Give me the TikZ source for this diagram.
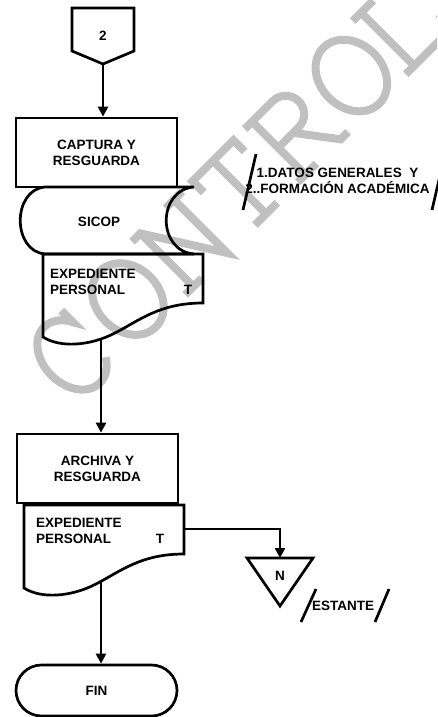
\documentclass[tikz,border=0pt]{standalone}
\usepackage{fontspec}
\setmainfont{Liberation Sans}
\usepackage{tikz}
\usetikzlibrary{arrows.meta}
\usetikzlibrary{positioning}
\usetikzlibrary{shapes.misc}
\definecolor{marcagris}{RGB}{192,192,192}
\newcommand{\hojadoc}[2]{\draw[linea, shift={(#1,#2)}] (0,0) -- (160,0) -- (160,49) .. controls (117,49) and (97,66) .. (72,79) .. controls (47,92) and (17,94) .. (0,83) -- cycle;}

\begin{document}
\begin{tikzpicture}[line cap=butt, line join=miter, x=1pt, y=-1pt,
	texto/.style={font=\bfseries\fontsize{13.5}{16}\selectfont, inner sep=0pt},
	caja/.style={draw, line width=2.7pt, minimum width=161pt, minimum height=69pt, align=center, texto},
	linea/.style={line width=2.7pt},
	flecha/.style={line width=2.7pt, -{Triangle[length=10pt, width=10pt]}}]
						\useasboundingbox (0,0) rectangle (437,717);
						\begin{scope}
						\clip (0,0) rectangle (437,717);
						\begin{scope}[shift={(70.6,409.4)}, rotate=45, x=131.7pt, y=131.7pt, draw=marcagris, line width=8pt]
						\draw (0.48,0.58) -- (0.48,0.457) arc[start angle=35, end angle=320, x radius=0.22, y radius=0.3];
						\draw (0.9,0.285) ellipse[x radius=0.24, y radius=0.3];
						\draw (1.23,0.57) -- (1.32,0.57) -- (1.68,0) -- (1.68,0.57);
						\draw (1.59,0.57) -- (1.77,0.57);
						\draw (1.32,0.57) -- (1.32,0);
						\draw (1.23,0) -- (1.41,0);
						\draw (1.88,0.45) -- (1.88,0.57) -- (2.32,0.57) -- (2.32,0.45);
						\draw (2.1,0.57) -- (2.1,0);
						\draw (1.98,0) -- (2.22,0);
						\draw (2.44,0.57) -- (2.74,0.57) arc[start angle=90, end angle=-90, radius=0.14] -- (2.52,0.29);
						\draw (2.52,0.57) -- (2.52,0);
						\draw (2.44,0) -- (2.64,0);
						\draw (2.68,0.29) -- (2.9,0) -- (2.98,0);
						\draw (3.3,0.285) ellipse[x radius=0.24, y radius=0.3];
						\draw (3.6,0.57) -- (3.82,0.57);
						\draw (3.69,0.57) -- (3.69,0);
						\draw (3.6,0) -- (4.1,0) -- (4.1,0.15);
						\end{scope}
						\end{scope}
						\draw[linea] (72,8) -- (134,8) -- (134,51) -- (103,64) -- (72,51) -- cycle;
						\node[texto] (conector) at (103,36) {2};
						\coordinate (conectorp) at (103,64);
						\node[caja] (captura) at (96.5,152.5) {CAPTURA Y\\RESGUARDA};
						\draw[flecha] (conectorp) -- (conectorp |- captura.north);
						\draw[linea] (45,187) -- (194,187) .. controls (157,190) and (157,251) .. (194,254) -- (45,254) .. controls (12,251) and (12,190) .. (45,187) -- cycle;
						\node[texto] (sicop) at (99,222) {SICOP};
						\hojadoc{43}{254}
						\node[texto, align=left, anchor=west] (exped1) at (50,282) {EXPEDIENTE\\PERSONAL};
						\node[texto] (tipo1) at (188,290) {T};
						\coordinate (salida1) at (101,340);
						\node[caja] (archiva) at (97.5,468.5) {ARCHIVA Y\\RESGUARDA};
						\draw[flecha] (salida1) -- (salida1 |- archiva.north);
						\hojadoc{24}{505}
						\node[texto, align=left, anchor=west] (exped2) at (36,531) {EXPEDIENTE\\PERSONAL};
						\node[texto] (tipo2) at (160,539) {T};
						\coordinate (lado2) at (184,529);
						\coordinate (salida2) at (101,582);
						\draw[linea] (247,558) -- (313,558) -- (280,606) -- cycle;
						\node[texto] (archivo) at (280,576) {N};
						\coordinate (archivop) at (280,558);
						\draw[flecha] (lado2) -| (archivop);
						\node[draw, rounded rectangle, line width=2.7pt, minimum width=161pt, minimum height=51pt, texto] (fin) at (96.5,690.5) {FIN};
						\draw[flecha] (salida2) -- (salida2 |- fin.north);
						\node[texto, align=center] (datos) at (337.5,181) {1.DATOS GENERALES~ Y\\2..FORMACIÓN ACADÉMICA};
						\draw[linea] (243,210) -- (256,154);
						\draw[linea] (432,210) -- (445,154);
						\node[texto] (estante) at (343,606) {ESTANTE};
						\draw[linea] (301,622) -- (316,589);
						\draw[linea] (375,622) -- (389,589);
					\end{tikzpicture}
\end{document}
